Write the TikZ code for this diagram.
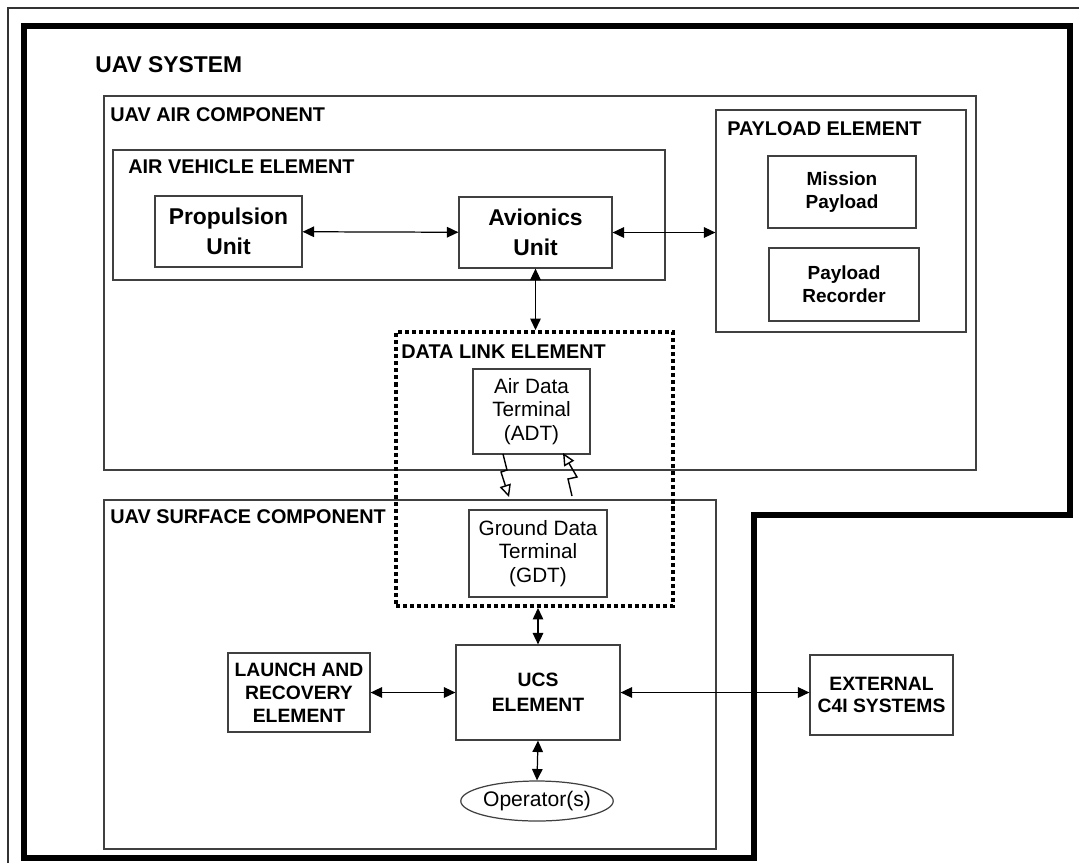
\documentclass[tikz,border=0pt]{standalone}
\usepackage{fontspec}
\setmainfont{Liberation Sans}
\usetikzlibrary{arrows.meta,shapes.geometric}
\NewDocumentCommand{\fs}{m m}{\fontsize{#1}{#2}\selectfont}

\begin{document}
\begin{tikzpicture}[x=0.02cm, y=-0.02cm,
    box/.style 2 args={draw=black!75, line width=0.7pt, inner sep=0pt, align=center,
        minimum width=#1*0.02cm, minimum height=#2*0.02cm},
    title/.style={anchor=west, inner sep=0pt, font=\fs{11.3}{13}\bfseries},
    biarrow/.style={{Triangle[length=6.5pt,width=6pt]}-{Triangle[length=6.5pt,width=6pt]}, line width=0.7pt},
    bolt/.style={-{Triangle[open,length=7pt,width=6.5pt]}, line width=0.8pt}]
        \useasboundingbox (0,0) rectangle (1079,863);
        \draw[black!80, line width=0.8pt] (8,863) -- (8,8) -- (1079,8);
        \draw[line width=2.9pt, line join=miter] (24,26) -- (1070,26) -- (1070,515) -- (754,515) -- (754,858) -- (24,858) -- cycle;
        \node[title, font=\fs{13}{15}\bfseries] (sysL) at (95,65) {UAV SYSTEM};

        % air component
        \node[box={872}{374}] (air) at (540,283) {};
        \node[title] (airL) at (110,115) {UAV AIR COMPONENT};
        \node[box={552}{130}] (ave) at (389,215) {};
        \node[title] (aveL) at (128,167) {AIR VEHICLE ELEMENT};
        \node[box={147}{71}, font=\fs{13}{17}\bfseries] (prop) at (228.5,231.5) {Propulsion\\Unit};
        \node[box={153}{71}, font=\fs{13}{17}\bfseries] (avio) at (535.5,232.5) {Avionics\\Unit};
        \node[box={250}{222}] (pay) at (841,221) {};
        \node[title] (payL) at (727,129) {PAYLOAD ELEMENT};
        \node[box={148}{72}, font=\fs{10.8}{13}\bfseries] (mis) at (842,192) {Mission\\Payload};
        \node[box={150}{73}, font=\fs{10.8}{13}\bfseries] (rec) at (844,284.5) {Payload\\Recorder};

        % surface component
        \node[box={612}{349}] (surf) at (410,674.5) {};
        \node[title] (surfL) at (110,517) {UAV SURFACE COMPONENT};
        \node[box={142}{79}, font=\fs{11}{13}\bfseries] (lre) at (299,692.5) {LAUNCH AND\\RECOVERY\\ELEMENT};
        \node[box={164}{95}, font=\fs{11}{14}\bfseries] (ucs) at (538,692.5) {UCS\\ELEMENT};
        \node[box={143}{80}, font=\fs{11}{12.5}\bfseries] (ext) at (881.5,695) {EXTERNAL\\C4I SYSTEMS};
        \node[ellipse, draw=black!75, line width=0.7pt, inner sep=0pt, minimum width=152*0.02cm, minimum height=40*0.02cm, font=\fs{12}{14}] (op) at (537,801) {Operator(s)};

        % data link element
        \node[box={277}{274}, fill=none, draw=black, line width=2.3pt, dash pattern=on 2.3pt off 1.7pt] (dl) at (534.5,469) {};
        \node[title] (dlL) at (401,352) {DATA LINK ELEMENT};
        \node[box={117}{85}, fill=white, font=\fs{11.8}{13.3}] (adt) at (531.5,411.5) {Air Data\\Terminal\\(ADT)};
        \node[box={138}{87}, fill=white, font=\fs{11.8}{13.3}] (gdt) at (538,553.5) {Ground Data\\Terminal\\(GDT)};

        \coordinate (boltA) at (503,454);
        \coordinate (boltB) at (572,496);
        \draw[bolt] (boltA) -- ++(4,16) -- ++(-6,2) -- ++(8,25);
        \draw[bolt] (boltB) -- ++(-4,-17) -- ++(9,-2) -- ++(-14,-24);

        \draw[biarrow] (prop) -- (avio);
        \draw[biarrow] (avio.east) -- (avio.east -| pay.west);
        \draw[biarrow] (avio.south) -- (avio.south |- dl.north);
        \draw[biarrow] (ucs.north) -- (ucs.north |- dl.south);
        \draw[biarrow] (lre) -- (ucs);
        \draw[biarrow] (ucs.east) -- (ucs.east -| ext.west);
        \draw[biarrow] (ucs.south) -- (op.north);
    \end{tikzpicture}
\end{document}
